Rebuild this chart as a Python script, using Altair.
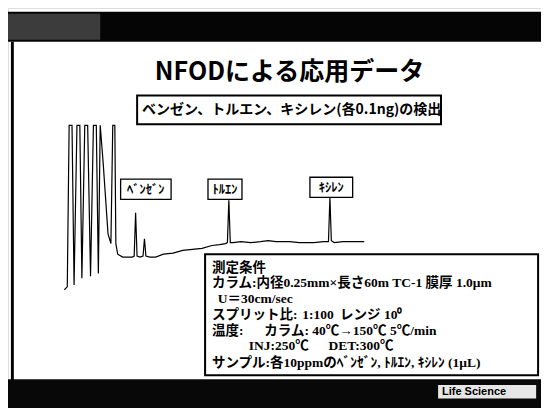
import altair as alt
import pandas as pd

# ---------------- data ----------------
# chromatogram trace (retention time in min, detector signal in arbitrary units)
ret_time = [3.04, 3.18, 3.27, 3.41, 3.51, 3.65, 3.79, 3.89, 4.03, 4.17, 4.31, 4.45, 4.59, 4.69,
            4.78, 4.92, 5.16, 5.30, 5.39, 5.49, 5.54, 5.63, 5.87, 6.34, 6.43, 6.50, 6.57, 6.72,
            6.86, 6.93, 7.00, 7.19, 7.47, 7.85, 8.32, 8.79, 9.26, 9.73, 10.21, 10.58, 10.87,
            10.96, 11.03, 11.10, 11.24, 11.62, 12.09, 12.56, 12.94, 13.32, 13.98, 14.45, 15.16,
            15.63, 15.87, 15.94, 16.01, 16.15, 16.57, 17.05, 17.61]
signal = [-6.5, -5.0, 79.0, 79.0, -4.0, 79.0, 79.0, -0.5, 79.0, 79.0, 0.5, 79.0, 79.0, 2.0,
          79.0, 60.0, 22.5, 17.5, 79.0, 79.0, 17.5, 12.0, 10.5, 10.5, 11.0, 33.5, 11.0, 10.5,
          11.0, 20.0, 11.0, 10.5, 10.5, 12.0, 12.5, 14.0, 14.5, 15.0, 16.5, 17.0, 17.5,
          18.0, 40.0, 18.0, 18.0, 18.5, 18.0, 18.5, 19.0, 18.5, 18.5, 18.0, 18.0,
          18.5, 18.5, 41.5, 19.0, 18.0, 18.5, 18.5, 18.5]

peak_names = ["ﾍﾞﾝｾﾞﾝ", "ﾄﾙｴﾝ", "ｷｼﾚﾝ"]

title_text = "NFODによる応用データ"
subtitle_text = "ベンゼン、トルエン、キシレン(各0.1ng)の検出"
cond_title = "測定条件"
cond_column = "カラム:内径0.25mm×長さ60m TC-1 膜厚 1.0μm"
cond_flow = "U＝30cm/sec"
cond_split = ["スプリット比:", "1:100", "レンジ 10⁰"]
cond_temp = ["温度:", "カラム: 40℃→150℃ 5℃/min"]
cond_inj = ["INJ:250℃", "DET:300℃"]
cond_sample = "サンプル:各10ppmのﾍﾞﾝｾﾞﾝ, ﾄﾙｴﾝ, ｷｼﾚﾝ (1μL)"
footer_text = "Life Science"

# ---------------- layout helpers ----------------
W, H = 533, 400
SX, SY = W / 549.0, H / 416.0
JP = "Noto Sans CJK JP"
SERIF_JP = "Liberation Serif, Noto Sans CJK JP"
one = pd.DataFrame({"k": [0]})


def X(v):
    return v * SX


def Y(v):
    return v * SY


def rect(x0, y0, x1, y1, fill, stroke=None, sw=0):
    kw = dict(fill=fill)
    if stroke is not None:
        kw.update(stroke=stroke, strokeWidth=sw)
    return alt.Chart(one).mark_rect(**kw).encode(
        x=alt.value(X(x0)), x2=alt.value(X(x1)),
        y=alt.value(Y(y0)), y2=alt.value(Y(y1)))


def text(s, x, y, size, font=JP, weight="bold", align="left", color="black"):
    return alt.Chart(one).mark_text(
        text=s, align=align, baseline="middle", fontSize=size, font=font,
        fontWeight=weight, color=color).encode(x=alt.value(X(x)), y=alt.value(Y(y)))


trace = pd.DataFrame({"t": ret_time, "s": signal})
xs = alt.Scale(domain=[0.3, 26.196], nice=False, zero=False)
ys = alt.Scale(domain=[-68, 140], nice=False, zero=False)

line = alt.Chart(trace).mark_line(color="black", strokeWidth=1.2).encode(
    x=alt.X("t:Q", scale=xs, axis=None),
    y=alt.Y("s:Q", scale=ys, axis=None),
)

CS = 13.5  # conditions font size

layers = [
    # slide frame
    rect(0, 4, 549, 35, "#050505"),
    rect(0, 6, 95, 33, "#3c3c3c"),
    rect(3, 35, 6, 388, "black"),
    rect(0, 386, 549, 416, "#080808"),
    rect(443, 392, 544, 406, "#e6e6e6"),
    text(footer_text, 447, 399.5, 11, font="Liberation Sans"),
    # chromatogram
    line,
    # title + subtitle
    text(title_text, 290, 67, 25, align="center"),
    rect(133, 91, 446, 121, "white", "black", 2),
    text(subtitle_text, 138, 106, 14),
    # peak label boxes
    rect(116, 178, 168, 199, "white", "black", 1.3),
    text(peak_names[0], 142, 189, 12.5, align="center"),
    rect(206, 178, 241, 199, "white", "black", 1.3),
    text(peak_names[1], 223.5, 189, 12.5, align="center"),
    rect(311, 176, 355, 197, "white", "black", 1.3),
    text(peak_names[2], 333, 187, 12.5, align="center"),
    # measurement conditions box
    rect(203, 256, 546, 382, "white", "black", 2),
    text(cond_title, 210, 270, 13.5),
    text(cond_column, 210, 286.5, CS, font=SERIF_JP),
    text(cond_flow, 216, 302.5, CS, font=SERIF_JP),
    text(cond_split[0], 210, 319, CS, font=SERIF_JP),
    text(cond_split[1], 303, 319, CS, font=SERIF_JP),
    text(cond_split[2], 342, 319, CS, font=SERIF_JP),
    text(cond_temp[0], 210, 336, CS, font=SERIF_JP),
    text(cond_temp[1], 264, 336, CS, font=SERIF_JP),
    text(cond_inj[0], 248, 352, CS, font=SERIF_JP),
    text(cond_inj[1], 330, 352, CS, font=SERIF_JP),
    text(cond_sample, 210, 369, CS, font=SERIF_JP),
]

chart = alt.layer(*layers).properties(
    width=W, height=H, padding=0,
    autosize=alt.AutoSizeParams(type="fit", contains="padding"),
).configure_view(stroke=None).configure(background="white")

chart.save("out.html", embed_options={"renderer": "svg", "actions": False})
